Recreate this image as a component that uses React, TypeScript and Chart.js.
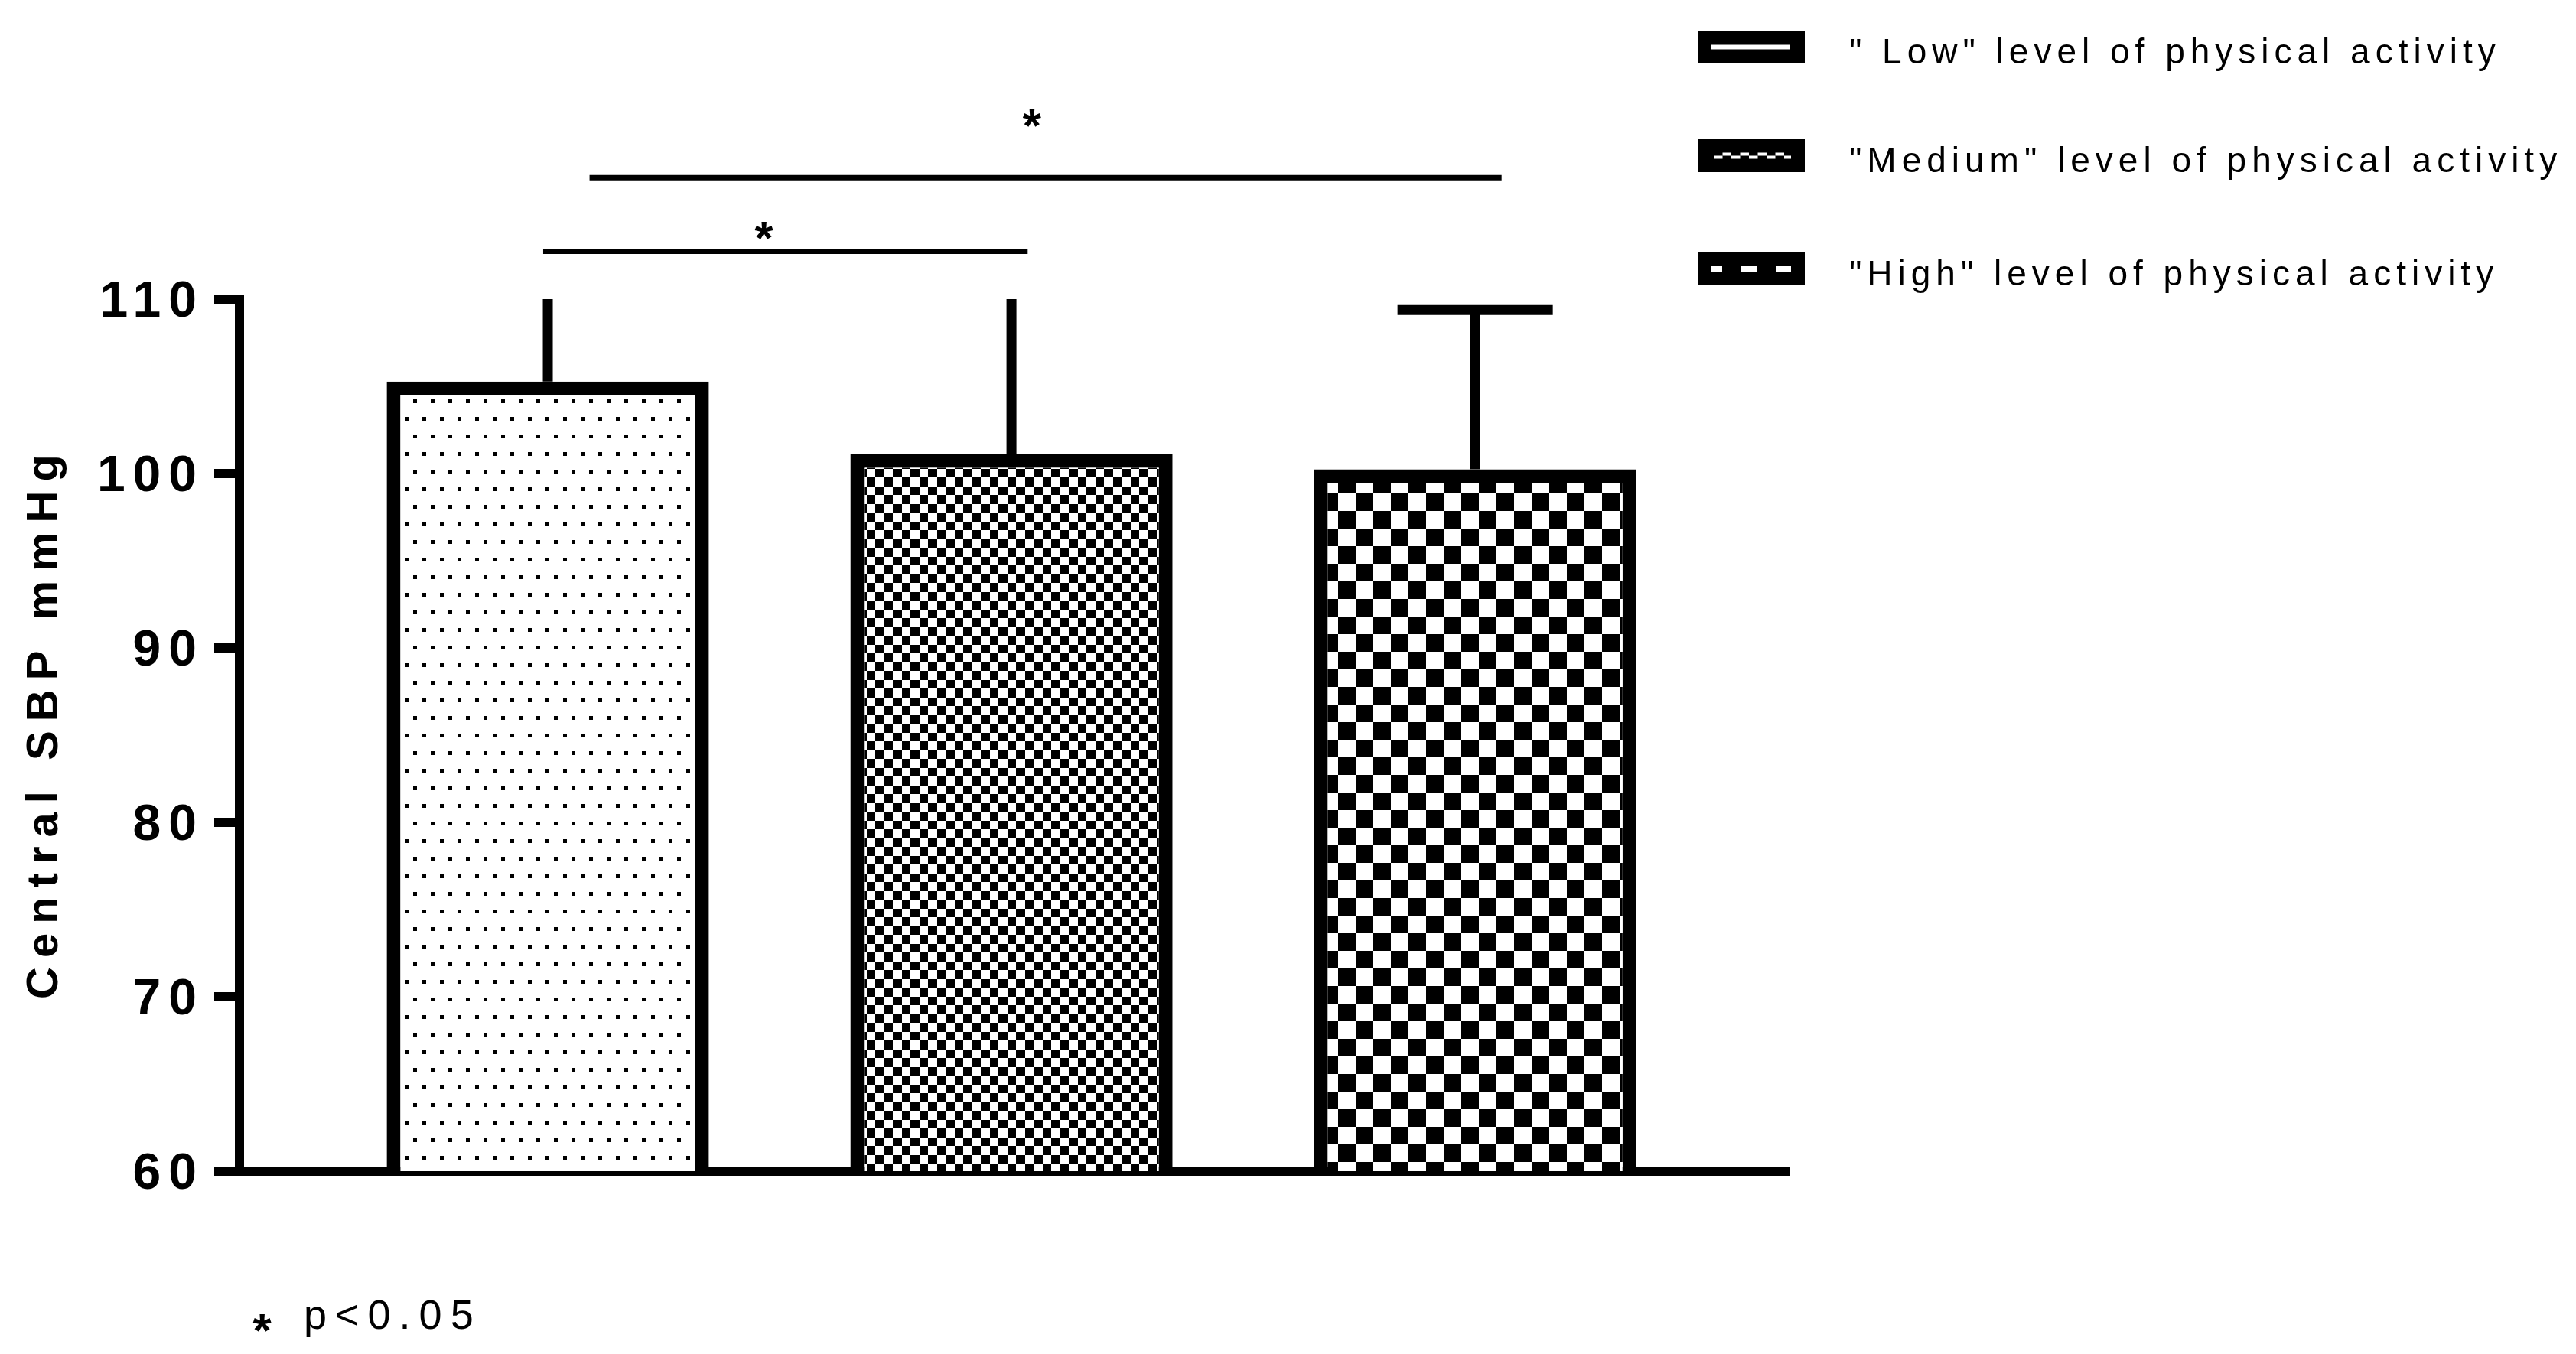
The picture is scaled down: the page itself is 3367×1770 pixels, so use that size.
import React, { useEffect, useRef } from 'react';
import { Chart, registerables } from 'chart.js';

Chart.register(...registerables);

// data
const groupNames = [
    '" Low" level of physical activity',
    '"Medium" level of physical activity',
    '"High" level of physical activity',
];
const groupX = [1, 2, 3];
const meanSBP = [105.27, 101.12, 100.24];
const sdSBP = [6.5, 10.5, 9.13];
const yTicks = [60, 70, 80, 90, 100, 110];

// significance brackets (x in group units, y in mmHg)
const bracketFrom = [0.99, 1.09];
const bracketTo = [2.035, 3.057];
const bracketY = [112.74, 116.96];
const starX = [1.467, 2.045];
const starY = [113.92, 120.39];

const axisTitle = 'Central SBP mmHg';
const noteText = 'p<0.05';

const FONT = '"Liberation Sans", Arial, sans-serif';

// legend layout
const legendLeft = 2220;
const legendBoxW = 139;
const legendBoxH = 43;
const legendTops = [40, 182, 330];
const legendTextX = 2417;

type Painter = (g: CanvasRenderingContext2D) => void;

function makePattern(ctx: CanvasRenderingContext2D, w: number, h: number, paint: Painter, ox: number, oy: number) {
    const c = document.createElement('canvas');
    c.width = w;
    c.height = h;
    const g = c.getContext('2d')!;
    g.fillStyle = '#fff';
    g.fillRect(0, 0, w, h);
    g.fillStyle = '#000';
    paint(g);
    const p = ctx.createPattern(c, 'repeat')!;
    p.setTransform(new DOMMatrix().translate(ox, oy));
    return p;
}

function drawStar(ctx: CanvasRenderingContext2D, cx: number, cy: number, size: number) {
    ctx.save();
    ctx.font = `bold ${size}px ${FONT}`;
    (ctx as any).letterSpacing = '0px';
    ctx.textAlign = 'left';
    ctx.textBaseline = 'alphabetic';
    const m = ctx.measureText('*');
    const inkW = m.actualBoundingBoxLeft + m.actualBoundingBoxRight;
    const inkH = m.actualBoundingBoxAscent + m.actualBoundingBoxDescent;
    const x = cx - inkW / 2 + m.actualBoundingBoxLeft;
    const y = cy + inkH / 2 - m.actualBoundingBoxDescent;
    ctx.fillText('*', x, y);
    ctx.restore();
}

const decorPlugin = {
    id: 'decor',
    beforeDraw(chart: any) {
        chart.ctx.letterSpacing = '10px';
    },
    afterDatasetsDraw(chart: any) {
        const ctx: CanvasRenderingContext2D = chart.ctx;
        const yScale = chart.scales.y;
        const area = chart.chartArea;
        const meta = chart.getDatasetMeta(0);
        ctx.save();
        ctx.beginPath();
        ctx.rect(0, area.top, chart.width, area.bottom - area.top);
        ctx.clip();
        ctx.strokeStyle = '#000';
        ctx.lineWidth = 13;
        ctx.lineCap = 'butt';
        meta.data.forEach((bar: any, i: number) => {
            const top = yScale.getPixelForValue(meanSBP[i] + sdSBP[i]);
            const capHalf = bar.width * 0.241;
            ctx.beginPath();
            ctx.moveTo(bar.x, bar.y);
            ctx.lineTo(bar.x, top);
            ctx.stroke();
            ctx.beginPath();
            ctx.moveTo(bar.x - capHalf, top);
            ctx.lineTo(bar.x + capHalf, top);
            ctx.stroke();
        });
        ctx.restore();
    },
    afterDraw(chart: any) {
        const ctx: CanvasRenderingContext2D = chart.ctx;
        const xScale = chart.scales.x;
        const yScale = chart.scales.y;
        ctx.save();
        (ctx as any).letterSpacing = '0px';
        ctx.fillStyle = '#000';
        ctx.strokeStyle = '#000';

        // brackets + stars
        ctx.lineWidth = 7;
        bracketFrom.forEach((from, i) => {
            const y = yScale.getPixelForValue(bracketY[i]);
            ctx.beginPath();
            ctx.moveTo(xScale.getPixelForValue(from), y);
            ctx.lineTo(xScale.getPixelForValue(bracketTo[i]), y);
            ctx.stroke();
        });
        starX.forEach((sx, i) => {
            drawStar(ctx, xScale.getPixelForValue(sx), yScale.getPixelForValue(starY[i]), 62);
        });

        // y axis title
        ctx.save();
        ctx.translate(58.5, 950);
        ctx.rotate(-Math.PI / 2);
        ctx.font = `bold 58px ${FONT}`;
        (ctx as any).letterSpacing = '12px';
        ctx.textAlign = 'center';
        ctx.textBaseline = 'middle';
        ctx.fillText(axisTitle, 6, 0);
        ctx.restore();

        // legend
        groupNames.forEach((name, i) => {
            const top = legendTops[i];
            ctx.fillStyle = '#000';
            ctx.fillRect(legendLeft, top, legendBoxW, legendBoxH);
            ctx.fillStyle = '#fff';
            const mid = top + legendBoxH / 2;
            if (i === 0) {
                ctx.fillRect(legendLeft + 17, mid - 3, 103, 6);
            } else if (i === 1) {
                for (let k = 0; k < 9; k++) {
                    const x0 = legendLeft + 20 + k * 11.5;
                    const w = Math.min(11.5, legendLeft + 121 - x0);
                    if (w <= 0) continue;
                    ctx.fillRect(x0, k % 2 === 0 ? mid : mid - 4, w, 4);
                }
            } else {
                ctx.save();
                ctx.strokeStyle = '#fff';
                ctx.lineWidth = 7;
                ctx.setLineDash([22, 24]);
                ctx.lineDashOffset = 8;
                ctx.beginPath();
                ctx.moveTo(legendLeft + 17, mid);
                ctx.lineTo(legendLeft + 121, mid);
                ctx.stroke();
                ctx.restore();
            }
            ctx.fillStyle = '#000';
            ctx.font = `46px ${FONT}`;
            (ctx as any).letterSpacing = '7px';
            ctx.textAlign = 'left';
            ctx.textBaseline = 'alphabetic';
            ctx.fillText(name, legendTextX, top + legendBoxH);
        });

        // footnote
        drawStar(ctx, 343, 1729, 62);
        ctx.font = `54px ${FONT}`;
        (ctx as any).letterSpacing = '11px';
        ctx.textAlign = 'left';
        ctx.textBaseline = 'alphabetic';
        ctx.fillText(noteText, 397, 1737);
        ctx.restore();
    },
};

const App: React.FC = () => {
    const canvasRef = useRef<HTMLCanvasElement | null>(null);

    useEffect(() => {
        if (!canvasRef.current) return;
        const ctx = canvasRef.current.getContext('2d')!;

        const dots = makePattern(ctx, 46, 46, g => {
            g.fillRect(0, 0, 5, 5);
            g.fillRect(23, 0, 5, 5);
            g.fillRect(11, 23, 5, 5);
            g.fillRect(34, 23, 5, 5);
        }, 529, 1511);
        const fineCheck = makePattern(ctx, 23, 23, g => {
            g.fillRect(11, 0, 12, 11);
            g.fillRect(0, 11, 11, 12);
        }, 1133, 613);
        const coarseCheck = makePattern(ctx, 46, 46, g => {
            g.fillRect(23, 0, 23, 23);
            g.fillRect(0, 23, 23, 23);
        }, 1749, 645);

        const chart = new Chart(canvasRef.current, {
            type: 'bar',
            data: {
                datasets: [{
                    label: 'Central SBP',
                    data: groupX.map((x, i) => ({ x, y: meanSBP[i] })),
                    backgroundColor: [dots, fineCheck, coarseCheck],
                    borderColor: '#000',
                    borderWidth: 18,
                    borderSkipped: 'start',
                    barPercentage: 0.695,
                    categoryPercentage: 1,
                }],
            },
            options: {
                animation: false,
                responsive: true,
                maintainAspectRatio: false,
                layout: { padding: { left: 0, top: 391, right: 1034, bottom: 239 } },
                plugins: {
                    legend: { display: false },
                    tooltip: { enabled: false },
                },
                scales: {
                    x: {
                        type: 'linear',
                        offset: false,
                        min: 0.335,
                        max: 3.668,
                        afterBuildTicks: (s: any) => { s.ticks = groupX.map(v => ({ value: v })); },
                        afterFit: (s: any) => { s.height = 0; },
                        ticks: { display: false },
                        grid: { drawOnChartArea: false, drawTicks: false, lineWidth: 12, color: '#000' },
                        border: { color: '#000', width: 12 },
                    },
                    y: {
                        min: 60,
                        max: 110,
                        afterBuildTicks: (s: any) => { s.ticks = yTicks.map(v => ({ value: v })); },
                        afterFit: (s: any) => { s.width = 313; },
                        ticks: {
                            color: '#000',
                            padding: 13,
                            labelOffset: 5,
                            font: { family: FONT, size: 66, weight: 'bold' },
                        },
                        grid: {
                            drawOnChartArea: false,
                            drawTicks: true,
                            tickLength: 33,
                            tickWidth: 12,
                            tickColor: '#000',
                            lineWidth: 12,
                            color: '#000',
                        },
                        border: { color: '#000', width: 12 },
                    },
                },
            },
            plugins: [decorPlugin],
        } as any);

        return () => {
            chart.destroy();
        };
    }, []);

    return (
        <div style={{ position: 'fixed', left: 0, top: 0, width: 3367, height: 1770, background: '#fff' }}>
            <canvas ref={canvasRef} />
        </div>
    );
};

export default App;
